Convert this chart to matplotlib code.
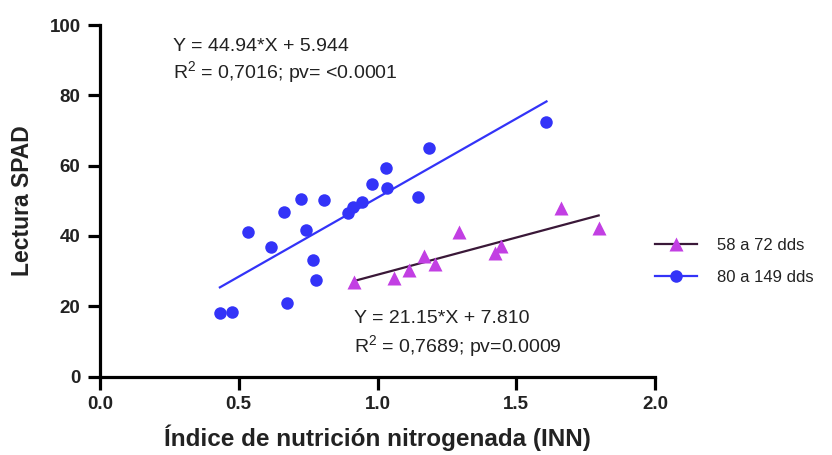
import matplotlib
matplotlib.use("Agg")
import matplotlib.pyplot as plt

plt.rcParams['font.family'] = ['Liberation Sans', 'DejaVu Sans']
plt.rcParams['mathtext.fontset'] = 'custom'
plt.rcParams['mathtext.rm'] = 'Liberation Sans'

# 80 a 149 dds
inn_late = [0.432, 0.474, 0.535, 0.616, 0.664, 0.675, 0.724, 0.742, 0.766, 0.780,
            0.807, 0.892, 0.913, 0.943, 0.979, 1.029, 1.033, 1.147, 1.186, 1.609]
spad_late = [18.0, 18.3, 41.2, 36.7, 46.7, 21.0, 50.5, 41.7, 33.1, 27.5,
             50.1, 46.6, 48.1, 49.7, 54.7, 59.4, 53.7, 51.2, 65.1, 72.4]

# 58 a 72 dds
inn_early = [0.915, 1.061, 1.114, 1.168, 1.208, 1.295, 1.422, 1.446, 1.660, 1.797]
spad_early = [27.0, 28.1, 30.3, 34.3, 32.0, 41.1, 35.2, 37.2, 48.0, 42.2]

# regression coefficients (slope, intercept)
fit_late = (44.94, 5.944)
fit_early = (21.15, 7.810)

labels = ['58 a 72 dds', '80 a 149 dds']
xticks = [0.0, 0.5, 1.0, 1.5, 2.0]
yticks = [0, 20, 40, 60, 80, 100]

blue = '#3333f8'
violet = '#c23fe3'
dark = '#3a1838'
txt = '#222222'

fig = plt.figure(figsize=(8.32, 4.55), dpi=100)
ax = fig.add_axes([100 / 832, 1 - 376.5 / 455, 555 / 832, 351.5 / 455])

# fitted lines over the range of each group
x0, x1 = min(inn_early), max(inn_early)
ax.plot([x0, x1], [fit_early[0] * x0 + fit_early[1], fit_early[0] * x1 + fit_early[1]],
        color=dark, lw=1.6, zorder=2)
x0, x1 = min(inn_late), max(inn_late)
ax.plot([x0, x1], [fit_late[0] * x0 + fit_late[1], fit_late[0] * x1 + fit_late[1]],
        color=blue, lw=1.6, zorder=2)

ax.plot(inn_late, spad_late, 'o', color=blue, ms=9, mec='none', zorder=3)
ax.plot(inn_early, spad_early, '^', color=violet, ms=9.5, mec='none', zorder=3)

h_early, = ax.plot([], [], '-^', color=dark, mfc=violet, mec='none', ms=9.5, lw=1.6)
h_late, = ax.plot([], [], '-o', color=blue, mfc=blue, mec='none', ms=9, lw=1.6)

ax.set_xlim(0, 2.0)
ax.set_ylim(0, 100)
ax.set_xticks(xticks)
ax.set_xticklabels([f'{v:.1f}' for v in xticks])
ax.set_yticks(yticks)

for s in ['top', 'right']:
    ax.spines[s].set_visible(False)
for s in ['left', 'bottom']:
    ax.spines[s].set_linewidth(2.3)
ax.tick_params(width=2.3, length=9, labelsize=13.5, pad=5)
for lab in ax.get_xticklabels() + ax.get_yticklabels():
    lab.set_fontweight('bold')
    lab.set_color(txt)

ax.set_xlabel('Índice de nutrición nitrogenada (INN)', fontsize=17.5, fontweight='bold',
              color=txt, va='center')
ax.xaxis.set_label_coords(0.5, -0.175)
ax.set_ylabel('Lectura SPAD', fontsize=16.5, fontweight='bold', color=txt, va='center')
ax.yaxis.set_label_coords(-0.139, 0.5)

ax.text(0.263, 94.0, 'Y = 44.94*X + 5.944', fontsize=14, color=txt, va='center')
ax.text(0.263, 86.3, r'R$^2$ = 0,7016; pv= <0.0001', fontsize=14, color=txt, va='center')
ax.text(0.915, 16.4, 'Y = 21.15*X + 7.810', fontsize=14, color=txt, va='center')
ax.text(0.915, 8.4, r'R$^2$ = 0,7689; pv=0.0009', fontsize=14, color=txt, va='center')

fig.legend([h_early, h_late], labels, loc='center left',
           bbox_to_anchor=(655 / 832, 1 - 261.5 / 455), frameon=False,
           fontsize=12, handlelength=2.5, handletextpad=1.2, labelspacing=1.0,
           borderpad=0, borderaxespad=0, labelcolor=txt)

fig.savefig('out.png', dpi=100)
